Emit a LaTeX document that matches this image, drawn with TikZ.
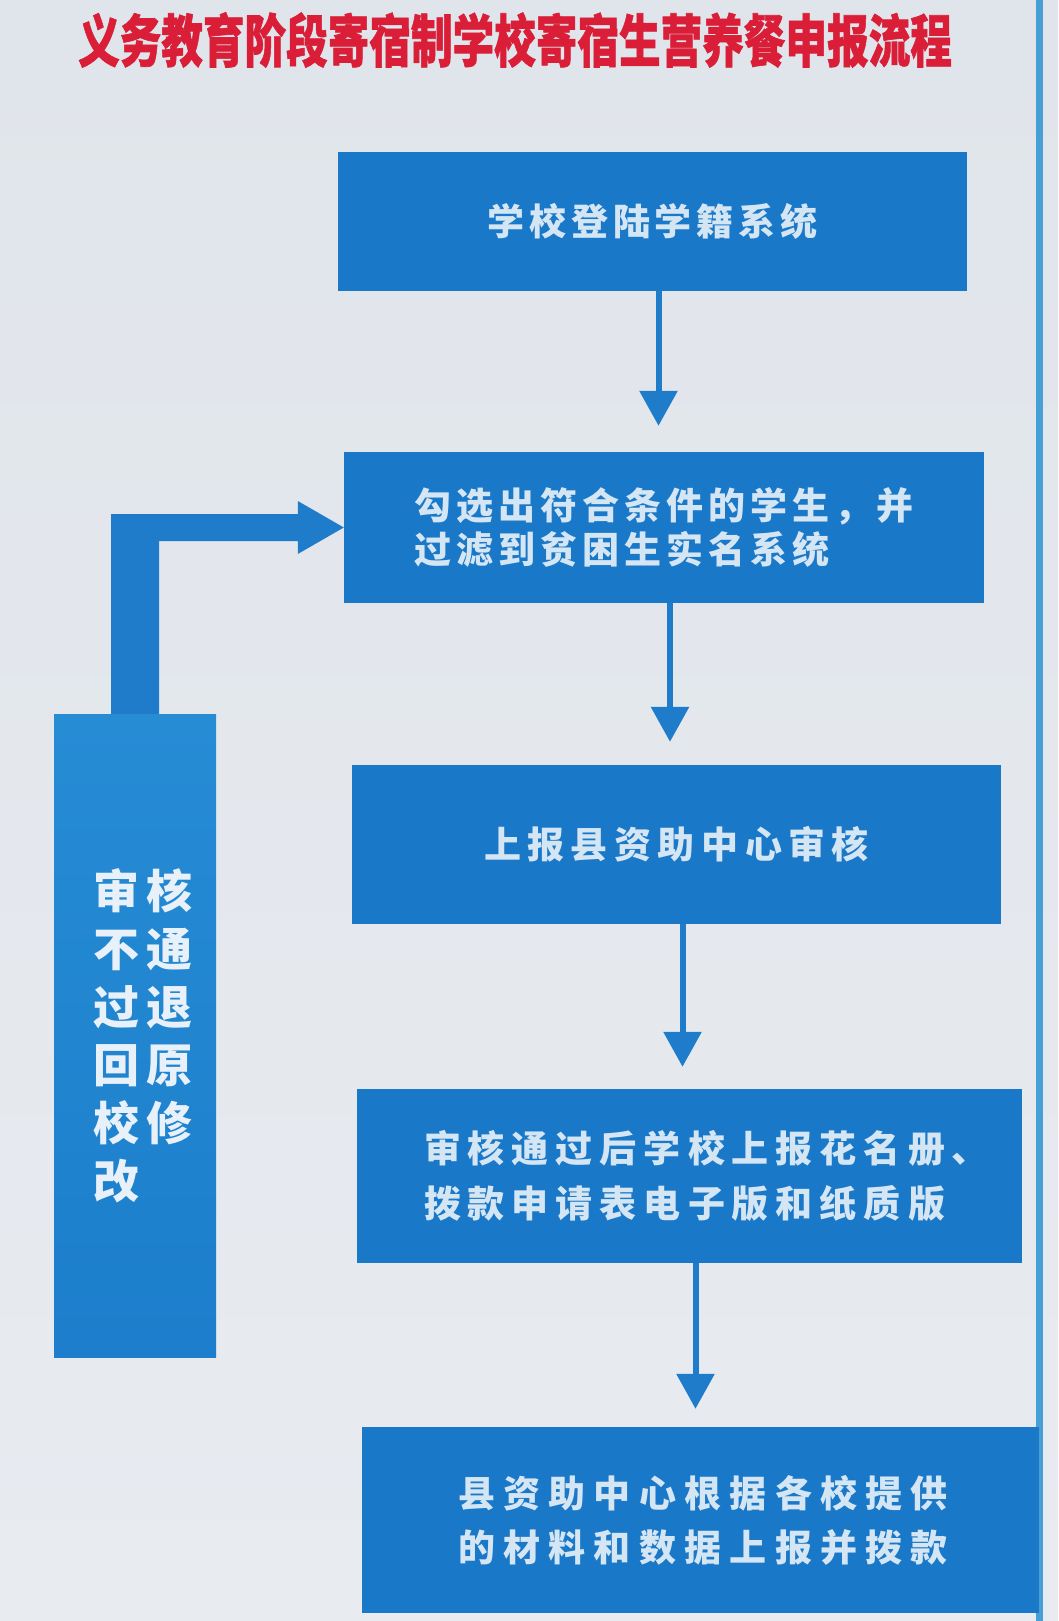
\documentclass[tikz,border=0pt]{standalone}
\usepackage{fontspec}
\newfontfamily\cjk{Noto Sans CJK SC}
\newfontfamily\cjkheavy{Noto Sans CJK SC}[BoldFeatures={FakeBold=1.2}]
\usetikzlibrary{arrows.meta,calc}
\definecolor{bgtop}{RGB}{224,229,235}
\definecolor{bgbot}{RGB}{232,235,240}
\definecolor{boxblue}{RGB}{26,120,200}
\definecolor{lbtop}{RGB}{38,140,212}
\definecolor{lbbot}{RGB}{28,126,204}
\definecolor{arrowblue}{RGB}{30,124,202}
\definecolor{boxtext}{RGB}{212,229,243}
\definecolor{titlered}{RGB}{218,30,56}
\definecolor{stripe}{RGB}{70,160,214}
\newdimen\lsgap
\def\lsp#1{\lsploop#1\relax\unskip}
\def\lsploop#1{\ifx#1\relax\else#1\hskip\lsgap\relax\expandafter\lsploop\fi}
\begin{document}
\begin{tikzpicture}[x=1pt,y=-1pt,
  box/.style={fill=boxblue, draw=none, text=boxtext, align=left, inner sep=0pt},
  flow/.style={draw=arrowblue, line width=6pt, -{Triangle[width=37pt,length=35pt]}},
]
\useasboundingbox (0,0) rectangle (1058,1621);
\shade[top color=bgtop, bottom color=bgbot] (0,0) rectangle (1058,1621);
\fill[stripe] (1036,0) rectangle (1043,1621);

\node[font=\cjkheavy\bfseries\fontsize{57}{57}\selectfont, text=titlered, inner sep=0pt] (title) at (515,40)
  {\scalebox{0.73}[1]{义务教育阶段寄宿制学校寄宿生营养餐申报流程}};

\node[box, minimum width=629pt, minimum height=139pt, font=\cjk\bfseries\fontsize{37}{44}\selectfont] (b1) at (652.5,221.5)
  {\global\lsgap=4.8pt\lsp{学校登陆学籍系统}};
\node[box, minimum width=640pt, minimum height=151pt, font=\cjk\bfseries\fontsize{37}{44}\selectfont] (b2) at (664,527.5)
  {\global\lsgap=5pt\lsp{勾选出符合条件的学生，并}\\\lsp{过滤到贫困生实名系统}};
\node[box, minimum width=649pt, minimum height=159pt, font=\cjk\bfseries\fontsize{37}{44}\selectfont] (b3) at (676.5,844.5)
  {\global\lsgap=6.5pt\lsp{上报县资助中心审核}};
\node[box, minimum width=665pt, minimum height=174pt, font=\cjk\bfseries\fontsize{37}{55}\selectfont] (b4) at (689.5,1176)
  {\global\lsgap=7pt\hspace*{34pt}\lsp{审核通过后学校上报花名册、}\\\hspace*{34pt}\lsp{拨款申请表电子版和纸质版}};
\node[box, minimum width=677pt, minimum height=186pt, font=\cjk\bfseries\fontsize{37}{54}\selectfont] (b5) at (700.5,1520)
  {\global\lsgap=8.3pt\hspace*{5pt}\lsp{县资助中心根据各校提供}\\\hspace*{5pt}\lsp{的材料和数据上报并拨款}};

\node[box, top color=lbtop, bottom color=lbbot, text=white!90!boxblue, minimum width=162pt, minimum height=643pt,
  font=\cjk\bfseries\fontsize{46}{58}\selectfont] (lb) at (135,1035.5)
  {\global\lsgap=8pt\hspace*{16pt}\lsp{审核}\\\hspace*{16pt}\lsp{不通}\\\hspace*{16pt}\lsp{过退}\\\hspace*{16pt}\lsp{回原}\\\hspace*{16pt}\lsp{校修}\\\hspace*{16pt}\lsp{改}\hspace*{54pt}};

\coordinate (a1) at ([xshift=6pt]b1.south);
\coordinate (a2) at ([xshift=6pt]b2.south);
\coordinate (a3) at ([xshift=6pt]b3.south);
\coordinate (a4) at ([xshift=6pt]b4.south);
\draw[flow, shorten >=26pt] (a1) -- (a1 |- b2.north);
\draw[flow, shorten >=23pt] (a2) -- (a2 |- b3.north);
\draw[flow, shorten >=22pt] (a3) -- (a3 |- b4.north);
\draw[flow, shorten >=18pt] (a4) -- (a4 |- b5.north);

\fill[arrowblue] let \p1=(lb.north), \p2=(b2.west) in
  (\x1-24pt,\y1) -- (\x1-24pt,\y2+13.5pt) -- (\x2-46pt,\y2+13.5pt) -- (\x2-46pt,\y2+26.5pt)
  -- (\x2,\y2) -- (\x2-46pt,\y2-26.5pt) -- (\x2-46pt,\y2-13.5pt) -- (\x1+24pt,\y2-13.5pt)
  -- (\x1+24pt,\y1) -- cycle;
\end{tikzpicture}
\end{document}
